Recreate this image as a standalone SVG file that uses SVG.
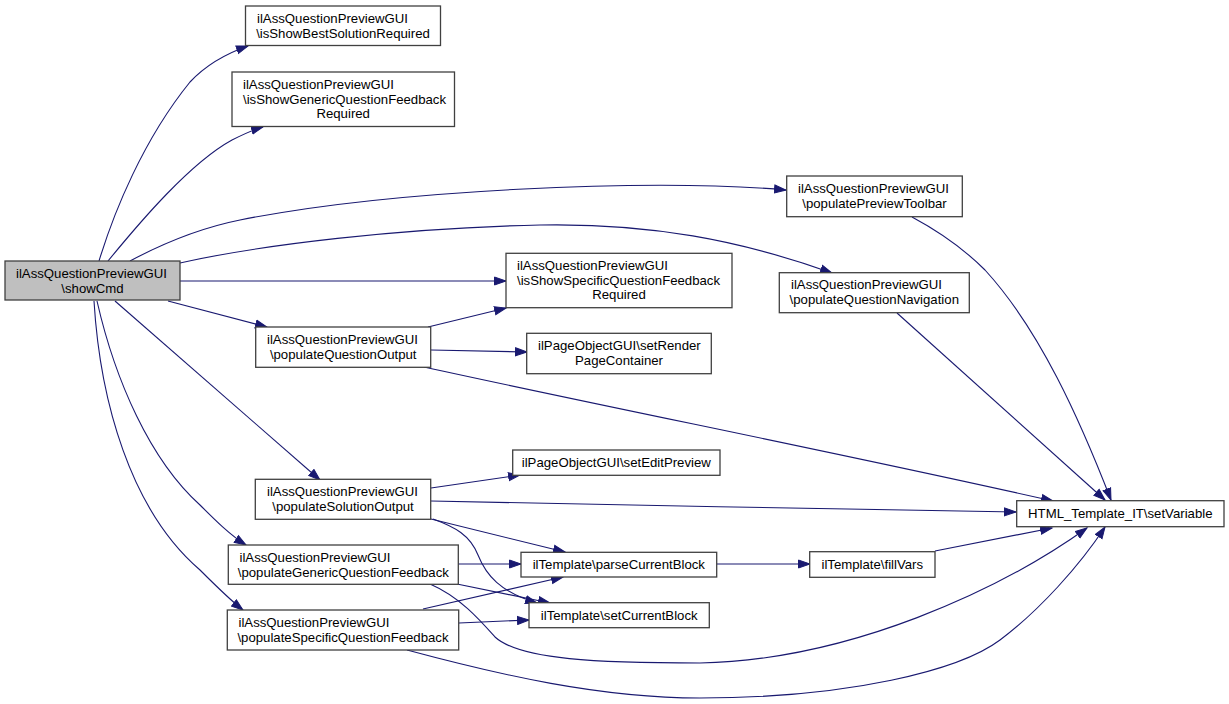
<svg xmlns="http://www.w3.org/2000/svg" width="1229" height="704" viewBox="0 0 1229 704">
<style>
.n rect{fill:#ffffff;stroke:#404040;stroke-width:1.3}
#n0 rect{fill:#bfbfbf}
text{font-family:"Liberation Sans",Arial,sans-serif;font-size:13.2px;fill:#000}
.c{text-anchor:middle}
.e path{fill:none;stroke:#191970;stroke-width:1.1}
</style>
<defs>
<marker id="a" markerUnits="userSpaceOnUse" markerWidth="14" markerHeight="10" refX="12" refY="4.5" orient="auto" viewBox="0 0 14 9">
<path d="M0.5,0.5 L12,4.5 L0.5,8.5 z" fill="#191970" stroke="#191970" stroke-width="1"/>
</marker>
</defs>
<rect width="1229" height="704" fill="#ffffff"/>
<g class="e" marker-end="url(#a)">
<path d="M99,261 C114,212 143,140 190,82 C205,66 222,55 248,46"/>
<path d="M108,261 C140,222 190,163 232,140 C242,135 252,130 263,127"/>
<path d="M130,261 C160,245 200,228 240,220 C390,190 650,178 786,190"/>
<path d="M180,263 C260,245 400,228 540,225 C650,223 740,240 832,273"/>
<path d="M180,281 L506,281"/>
<path d="M168,301 L267,327"/>
<path d="M115,301 L320,480"/>
<path d="M97,301 C115,380 150,460 200,505 C215,520 230,535 246,545"/>
<path d="M94,301 C100,400 130,510 200,570 C215,585 230,600 243,610"/>
<path d="M428,327 L506,308"/>
<path d="M431,350 L527,352"/>
<path d="M424,367 C620,410 850,455 1053,501"/>
<path d="M897,313 L1105,500"/>
<path d="M912,217 C940,232 965,250 985,270 C1040,330 1080,420 1111,500"/>
<path d="M431,488 L520,475"/>
<path d="M431,501 C600,504 850,510 1016,512"/>
<path d="M431,519 L565,552"/>
<path d="M433,519 C455,527 470,535 478,555 C486,575 500,592 537,603"/>
<path d="M458,564 L521,564"/>
<path d="M457,584 L550,603"/>
<path d="M430,584 C460,597 480,620 495,637 C520,660 600,663 700,663 C850,660 1000,590 1087,528"/>
<path d="M423,609 L563,577"/>
<path d="M459,623 L529,620"/>
<path d="M407,650 C500,675 600,698 700,698 C850,698 960,670 1000,640 C1040,610 1080,565 1105,527"/>
<path d="M717,564 L810,564"/>
<path d="M935,551 L1052,528"/>
</g>
<g id="n0" class="n"><rect x="5" y="261" width="175" height="39"/><text x="16" y="277.5">ilAssQuestionPreviewGUI</text><text class="c" x="92.5" y="292.5">\showCmd</text></g>
<g id="n1" class="n"><rect x="245.5" y="6" width="195" height="39.5"/><text x="257" y="22.5">ilAssQuestionPreviewGUI</text><text class="c" x="343" y="37.5">\isShowBestSolutionRequired</text></g>
<g id="n2" class="n"><rect x="232" y="72" width="222.5" height="54.5"/><text x="243" y="88.5">ilAssQuestionPreviewGUI</text><text x="243" y="103.5">\isShowGenericQuestionFeedback</text><text class="c" x="343.2" y="117.5">Required</text></g>
<g id="n3" class="n"><rect x="786.7" y="176" width="175.6" height="40.7"/><text x="798" y="192.5">ilAssQuestionPreviewGUI</text><text class="c" x="874.5" y="207.5">\populatePreviewToolbar</text></g>
<g id="n4" class="n"><rect x="779.3" y="272.7" width="190" height="40"/><text x="791" y="289">ilAssQuestionPreviewGUI</text><text class="c" x="874.3" y="304">\populateQuestionNavigation</text></g>
<g id="n5" class="n"><rect x="506" y="253.3" width="226" height="54.4"/><text x="517" y="269.5">ilAssQuestionPreviewGUI</text><text x="517" y="284.5">\isShowSpecificQuestionFeedback</text><text class="c" x="619" y="298.5">Required</text></g>
<g id="n6" class="n"><rect x="255.7" y="327" width="175" height="40.3"/><text x="267" y="343.5">ilAssQuestionPreviewGUI</text><text class="c" x="343.2" y="358.5">\populateQuestionOutput</text></g>
<g id="n7" class="n"><rect x="526.7" y="333.3" width="184.6" height="40.4"/><text x="538" y="349.5">ilPageObjectGUI\setRender</text><text class="c" x="619" y="364.5">PageContainer</text></g>
<g id="n8" class="n"><rect x="512.7" y="450" width="207.3" height="25.3"/><text class="c" x="616.3" y="467.3">ilPageObjectGUI\setEditPreview</text></g>
<g id="n9" class="n"><rect x="255.3" y="479.3" width="175.4" height="40"/><text x="267" y="495.5">ilAssQuestionPreviewGUI</text><text class="c" x="343" y="510.5">\populateSolutionOutput</text></g>
<g id="n10" class="n"><rect x="1016.7" y="500.7" width="207.3" height="26"/><text class="c" x="1120.3" y="518">HTML_Template_IT\setVariable</text></g>
<g id="n11" class="n"><rect x="228.3" y="545" width="230" height="39.3"/><text x="239.5" y="561.5">ilAssQuestionPreviewGUI</text><text class="c" x="343.3" y="576.5">\populateGenericQuestionFeedback</text></g>
<g id="n12" class="n"><rect x="521" y="552.3" width="195.7" height="24.7"/><text class="c" x="618.8" y="569">ilTemplate\parseCurrentBlock</text></g>
<g id="n13" class="n"><rect x="809.7" y="551.7" width="125.3" height="25.6"/><text class="c" x="872.3" y="569">ilTemplate\fillVars</text></g>
<g id="n14" class="n"><rect x="529" y="602.7" width="180.3" height="25"/><text class="c" x="619.2" y="620">ilTemplate\setCurrentBlock</text></g>
<g id="n15" class="n"><rect x="227.3" y="610" width="231.4" height="40"/><text x="238.5" y="626.5">ilAssQuestionPreviewGUI</text><text class="c" x="343" y="641.5">\populateSpecificQuestionFeedback</text></g>
</svg>
